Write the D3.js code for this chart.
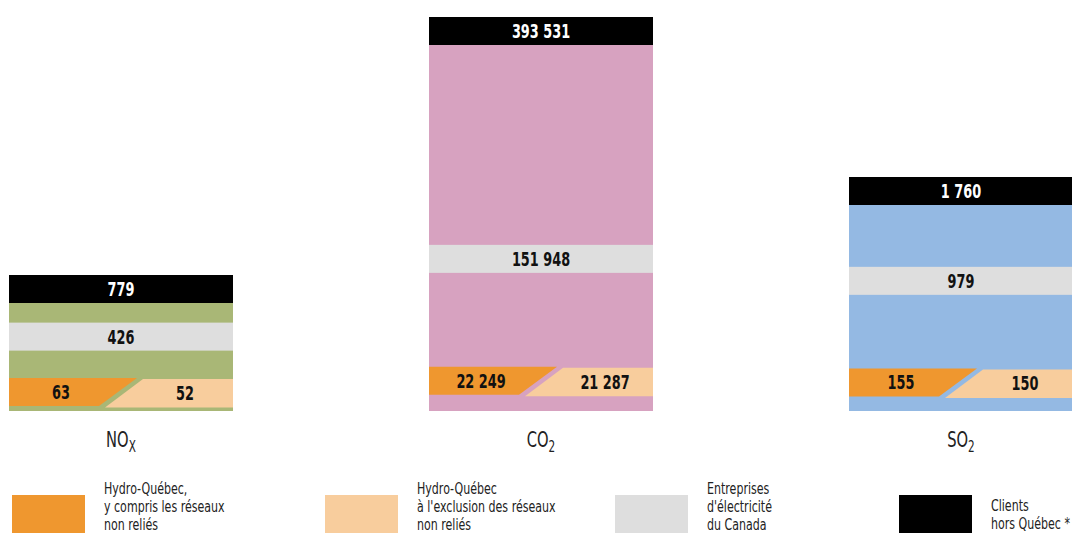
<!DOCTYPE html>
<html>
<head>
<meta charset="utf-8">
<script src="https://cdn.jsdelivr.net/npm/d3@7"></script>
<style>
  body { margin: 0; background: #fff; }
  svg { display: block; font-family: "DejaVu Sans", sans-serif; }
</style>
</head>
<body>
<div id="chart"></div>
<script>
//// data
var pollutants = ["NOx", "CO2", "SO2"];
var clientsHorsQuebec = [779, 393531, 1760];      // black band (top)
var entreprisesCanada = [426, 151948, 979];       // grey band
var hqAvecNonRelies = [63, 22249, 155];           // orange
var hqSansNonRelies = [52, 21287, 150];           // peach

var legendLabels = [
  ["Hydro-Québec,", "y compris les réseaux", "non reliés"],
  ["Hydro-Québec", "à l'exclusion des réseaux", "non reliés"],
  ["Entreprises", "d'électricité", "du Canada"],
  ["Clients", "hors Québec *"]
];

//// layout
var width = 1072, height = 533;
var baseline = 411, bandH = 28;
var barHeights = [136, 394, 234];   // drawn heights of each column (infographic, not to a common scale)
var barColors = ["#a9b776", "#d7a2c0", "#94b9e3"];
var cOrange = "#ef972f", cPeach = "#f8cd9d", cGrey = "#dedede", cBlack = "#000";

var fmt = function(v) { return d3.format(",")(v).replace(/,/g, " "); };

var svg = d3.select("#chart").append("svg")
    .attr("width", width)
    .attr("height", height);

// condensed text: squeeze horizontally around the anchor point
function condText(parent, tx, ty, sx) {
  return parent.append("g")
      .attr("transform", "translate(" + tx + "," + ty + ") scale(" + sx + ",1)")
    .append("text");
}

function valueLabel(parent, tx, ty, v, color) {
  condText(parent, tx, ty, 0.66)
      .attr("dy", "0.36em")
      .attr("text-anchor", "middle")
      .attr("fill", color)
      .attr("font-weight", "bold")
      .attr("font-size", 19.5)
      .text(fmt(v));
}

var x = d3.scaleBand()
    .domain(pollutants)
    .range([9, 1073])
    .paddingInner(196 / 420)
    .paddingOuter(0);

var bw = x.bandwidth();

pollutants.forEach(function(p, i) {
  var x0 = x(p);
  var y = d3.scaleLinear()
      .domain([0, clientsHorsQuebec[i]])
      .range([baseline, baseline - barHeights[i]]);

  var g = svg.append("g");

  // column
  g.append("rect")
      .attr("x", x0).attr("y", y(clientsHorsQuebec[i]))
      .attr("width", bw).attr("height", baseline - y(clientsHorsQuebec[i]))
      .attr("fill", barColors[i]);

  // black band at top
  var yb = y(clientsHorsQuebec[i]);
  g.append("rect")
      .attr("x", x0).attr("y", yb)
      .attr("width", bw).attr("height", bandH)
      .attr("fill", cBlack);
  valueLabel(g, x0 + bw / 2, yb + bandH / 2, clientsHorsQuebec[i], "#fff");

  // grey band
  var yg = y(entreprisesCanada[i]);
  g.append("rect")
      .attr("x", x0).attr("y", yg - bandH / 2)
      .attr("width", bw).attr("height", bandH)
      .attr("fill", cGrey);
  valueLabel(g, x0 + bw / 2, yg, entreprisesCanada[i], "#111");

  // Hydro-Québec split band, lifted a little off the baseline
  var yo = y(hqAvecNonRelies[i]) - 8;
  var t = yo - bandH / 2, b = yo + bandH / 2;
  g.append("path")
      .attr("d", d3.line()([[x0, t], [x0 + 128, t], [x0 + 90, b], [x0, b]]) + "Z")
      .attr("fill", cOrange);
  g.append("path")
      .attr("d", d3.line()([[x0 + 134, t + 1], [x0 + bw, t + 1], [x0 + bw, b + 1.5], [x0 + 96, b + 1.5]]) + "Z")
      .attr("fill", cPeach);
  valueLabel(g, x0 + 52, yo, hqAvecNonRelies[i], "#111");
  valueLabel(g, x0 + 176, yo + 1, hqSansNonRelies[i], "#111");

  // category label with subscript
  var lbl = condText(g, x0 + bw / 2, 447, 0.7)
      .attr("text-anchor", "middle")
      .attr("fill", "#222")
      .attr("font-size", 21);
  lbl.append("tspan").text(p.slice(0, 2));
  lbl.append("tspan").attr("dy", 5).attr("font-size", 15).text(p.slice(2).toUpperCase());
});

//// legend
var legendX = [12, 325, 615, 899];
var legendColors = [cOrange, cPeach, cGrey, cBlack];

var leg = svg.selectAll(".legend")
    .data(legendLabels)
    .enter().append("g")
    .attr("class", "legend")
    .attr("transform", function(d, i) { return "translate(" + legendX[i] + ",495)"; });

leg.append("rect")
    .attr("width", 73).attr("height", 40)
    .attr("fill", function(d, i) { return legendColors[i]; });

leg.each(function(d) {
  var txt = condText(d3.select(this), 92, d.length === 2 ? 16 : -1, 0.67)
      .attr("fill", "#222")
      .attr("font-size", 16.5);
  txt.selectAll("tspan")
      .data(d)
      .enter().append("tspan")
      .attr("x", 0)
      .attr("dy", function(s, i) { return i === 0 ? 0 : 18; })
      .text(function(s) { return s; });
});
</script>
</body>
</html>
